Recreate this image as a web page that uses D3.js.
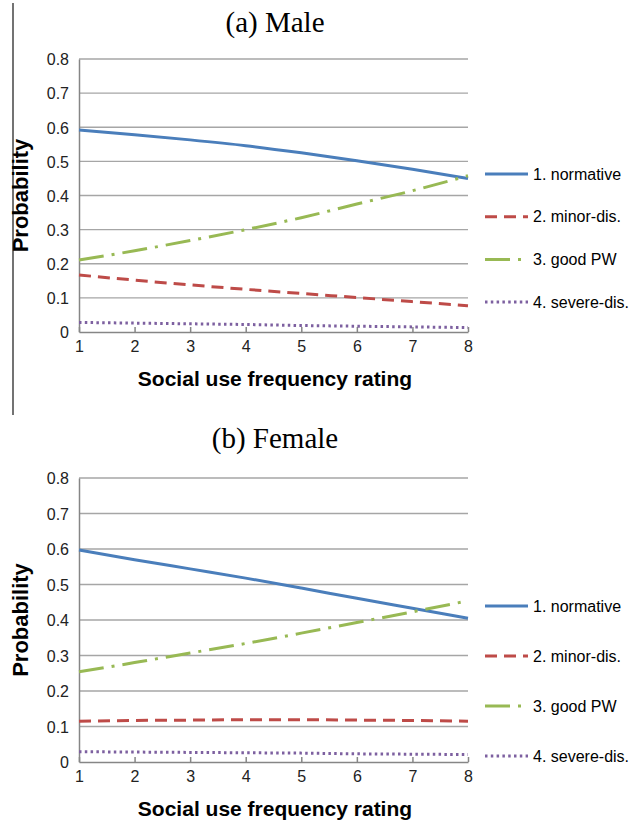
<!DOCTYPE html>
<html>
<head>
<meta charset="utf-8">
<script src="https://cdn.jsdelivr.net/npm/d3@7"></script>
<style>
  body { margin: 0; background: #fff; }
  svg { display: block; }
</style>
</head>
<body>
<script>
// x categories and y ticks
const ratings = [1, 2, 3, 4, 5, 6, 7, 8]
const yTicks  = [0, 0.1, 0.2, 0.3, 0.4, 0.5, 0.6, 0.7, 0.8]
const legendLabels = ['1. normative', '2. minor-dis.', '3. good PW', '4. severe-dis.']

// (a) Male
const maleNormative = [0.592, 0.578, 0.563, 0.546, 0.525, 0.502, 0.477, 0.450]
const maleMinor     = [0.167, 0.152, 0.138, 0.125, 0.113, 0.101, 0.089, 0.077]
const maleGood      = [0.211, 0.238, 0.268, 0.300, 0.335, 0.375, 0.414, 0.458]
const maleSevere    = [0.028, 0.026, 0.024, 0.022, 0.019, 0.017, 0.015, 0.013]

// (b) Female
const femaleNormative = [0.597, 0.570, 0.544, 0.518, 0.490, 0.461, 0.433, 0.405]
const femaleMinor     = [0.115, 0.117, 0.118, 0.119, 0.119, 0.118, 0.117, 0.115]
const femaleGood      = [0.254, 0.280, 0.307, 0.334, 0.363, 0.393, 0.423, 0.454]
const femaleSevere    = [0.029, 0.028, 0.027, 0.026, 0.025, 0.023, 0.022, 0.021]

const styles = [
    { color: '#4a7ebb', dash: null },
    { color: '#be4b48', dash: '12,7' },
    { color: '#98b954', dash: '25,8,3,8' },
    { color: '#7d60a0', dash: '2.5,3.3' }
]

const svg = d3.select('body').append('svg')
    .attr('width', 632)
    .attr('height', 822)

// separator line on the left of panel (a)
svg.append('line')
    .attr('x1', 13).attr('x2', 13)
    .attr('y1', 3).attr('y2', 415)
    .attr('stroke', '#444')
    .attr('stroke-width', 1.5)

const drawPanel = (p) => {
    const x = d3.scaleLinear().domain([1, 8]).range([79, 468])
    const y = d3.scaleLinear().domain([0, 0.8]).range([p.y0, p.y8])
    const g = svg.append('g')

    g.append('text')
        .attr('x', 275).attr('y', p.titleY)
        .attr('text-anchor', 'middle')
        .style('font-family', '"Liberation Serif", "Times New Roman", serif')
        .style('font-size', '29px')
        .text(p.title)

    // gridlines
    g.append('g').selectAll('line')
        .data(yTicks.filter(d => d > 0))
        .join('line')
        .attr('x1', x(1)).attr('x2', x(8))
        .attr('y1', d => y(d)).attr('y2', d => y(d))
        .attr('stroke', '#a6a6a6')
        .attr('stroke-width', 1.3)

    const yAxis = g.append('g')
        .attr('transform', `translate(${x(1)},0)`)
        .call(d3.axisLeft(y).tickValues(yTicks).tickSize(0).tickPadding(10)
            .tickFormat(d => d === 0 ? '0' : d3.format('.1f')(d)))
    yAxis.select('.domain').attr('stroke', '#868686').attr('stroke-width', 1.5)

    const xAxis = g.append('g')
        .attr('transform', `translate(0,${y(0)})`)
        .call(d3.axisBottom(x).tickValues(ratings).tickFormat(d3.format('d'))
            .tickSizeInner(-5).tickSizeOuter(0).tickPadding(9))
    xAxis.select('.domain').attr('stroke', '#868686').attr('stroke-width', 1.5)
    xAxis.selectAll('.tick line').attr('stroke', '#868686').attr('stroke-width', 1.5)

    g.selectAll('.tick text')
        .style('font-family', '"Liberation Sans", Arial, sans-serif')
        .style('font-size', '16px')
        .attr('fill', '#222')
    yAxis.selectAll('.tick text').attr('dy', '0.36em')

    g.append('text')
        .attr('transform', `translate(28,${(y(0) + y(0.8)) / 2}) rotate(-90)`)
        .attr('text-anchor', 'middle')
        .style('font-family', '"Liberation Sans", Arial, sans-serif')
        .style('font-size', '22px')
        .style('font-weight', 'bold')
        .text('Probability')

    g.append('text')
        .attr('x', 275).attr('y', p.xLabelY)
        .attr('text-anchor', 'middle')
        .style('font-family', '"Liberation Sans", Arial, sans-serif')
        .style('font-size', '21px')
        .style('font-weight', 'bold')
        .text('Social use frequency rating')

    const line = d3.line()
        .x((d, i) => x(ratings[i]))
        .y(d => y(d))
        .curve(d3.curveMonotoneX)

    g.append('g').selectAll('path')
        .data(p.series)
        .join('path')
        .attr('d', line)
        .attr('fill', 'none')
        .attr('stroke', (d, i) => styles[i].color)
        .attr('stroke-width', 3)
        .attr('stroke-dasharray', (d, i) => styles[i].dash)

    const legend = g.append('g').selectAll('g')
        .data(legendLabels)
        .join('g')
        .attr('transform', (d, i) => `translate(485,${p.legendY + i * p.legendStep})`)

    legend.append('line')
        .attr('x1', 0).attr('x2', 43)
        .attr('stroke', (d, i) => styles[i].color)
        .attr('stroke-width', 3)
        .attr('stroke-dasharray', (d, i) => styles[i].dash)

    legend.append('text')
        .attr('x', 48).attr('dy', '0.35em')
        .style('font-family', '"Liberation Sans", Arial, sans-serif')
        .style('font-size', '16px')
        .text(d => d)
}

drawPanel({
    title: '(a) Male', titleY: 32,
    y0: 332, y8: 59,
    xLabelY: 386,
    legendY: 174, legendStep: 42.7,
    series: [maleNormative, maleMinor, maleGood, maleSevere]
})

drawPanel({
    title: '(b) Female', titleY: 448,
    y0: 762, y8: 478,
    xLabelY: 816,
    legendY: 606, legendStep: 50,
    series: [femaleNormative, femaleMinor, femaleGood, femaleSevere]
})
</script>
</body>
</html>
